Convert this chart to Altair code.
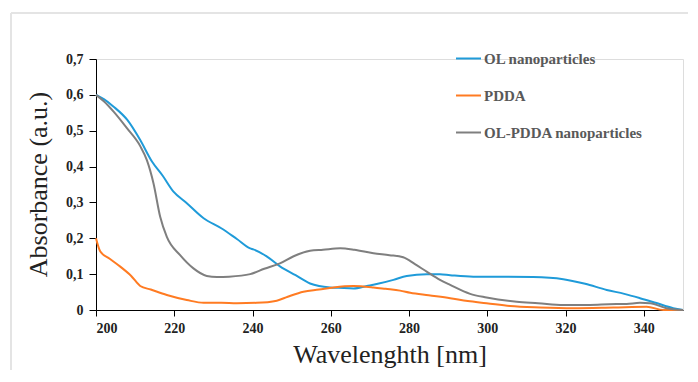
import altair as alt
import pandas as pd

series_names = ["OL nanoparticles", "PDDA", "OL-PDDA nanoparticles"]
series_colors = ["#1f9bd9", "#ff7b22", "#7f7f7f"]

ol_x = [200, 202, 204.5, 208, 211.3, 214.3, 217, 219.8, 223, 227.5, 232, 236, 239.4, 240.2, 243.7, 247.1, 251, 254.7, 257, 259.8, 262, 265.8, 269.2, 272, 276, 279.4, 284.5, 287.9, 290.5, 296.4, 303, 311.7, 319.4, 325, 330.5, 335, 339, 343, 347.5, 350]
ol_y = [0.600, 0.588, 0.567, 0.530, 0.474, 0.414, 0.375, 0.330, 0.300, 0.256, 0.228, 0.198, 0.172, 0.169, 0.149, 0.121, 0.097, 0.074, 0.067, 0.063, 0.062, 0.060, 0.067, 0.073, 0.084, 0.095, 0.100, 0.0995, 0.097, 0.093, 0.093, 0.092, 0.086, 0.073, 0.056, 0.045, 0.033, 0.020, 0.005, 0.000]

pdda_x = [200, 201.1, 203.5, 206.2, 209, 211.3, 214, 218.1, 223.2, 227.5, 232, 236, 241, 246.2, 249, 253, 257, 260.7, 265.8, 270.9, 274, 277.7, 280.3, 285, 290.5, 295, 299.8, 305.8, 313.5, 322, 332.2, 340.7, 345, 350]
pdda_y = [0.200, 0.163, 0.143, 0.121, 0.095, 0.067, 0.057, 0.042, 0.028, 0.020, 0.020, 0.019, 0.020, 0.026, 0.037, 0.051, 0.057, 0.063, 0.067, 0.063, 0.059, 0.054, 0.048, 0.041, 0.033, 0.025, 0.019, 0.011, 0.007, 0.005, 0.007, 0.009, 0.000, 0.000]

olp_x = [200, 202, 204.5, 207.9, 211.3, 213, 214.7, 216.4, 218.1, 221.5, 224.9, 228.3, 230.9, 234, 239.4, 243, 247, 250.5, 254.7, 258, 262.4, 266, 270.9, 275, 278.5, 281.5, 284.5, 287.9, 290.5, 295.6, 299.8, 307.5, 313, 319.4, 326.2, 331, 335.6, 339, 341.6, 345.8, 350]
olp_y = [0.600, 0.582, 0.553, 0.507, 0.457, 0.418, 0.353, 0.260, 0.204, 0.153, 0.116, 0.095, 0.092, 0.093, 0.100, 0.115, 0.130, 0.150, 0.165, 0.168, 0.172, 0.168, 0.158, 0.153, 0.147, 0.128, 0.107, 0.084, 0.070, 0.045, 0.035, 0.023, 0.019, 0.014, 0.014, 0.016, 0.017, 0.020, 0.019, 0.005, 0.000]

rows = []
for name, xs, ys in [(series_names[0], ol_x, ol_y), (series_names[1], pdda_x, pdda_y), (series_names[2], olp_x, olp_y)]:
    for i, (a, b) in enumerate(zip(xs, ys)):
        rows.append({"series": name, "wl": a, "abs": b, "order": i})
df = pd.DataFrame(rows)

FONT = "Liberation Serif"

lines = alt.Chart(df).mark_line(strokeWidth=2, interpolate="monotone").encode(
    x=alt.X("wl:Q", scale=alt.Scale(domain=[200, 350], nice=False),
            axis=alt.Axis(values=[200, 220, 240, 260, 280, 300, 320, 340], title="Wavelenghth [nm]",
                          grid=False, domainColor="black", tickColor="black", tickSize=6,
                          labelFont=FONT, labelFontSize=14, labelFontWeight="bold", labelColor="#222222",
                          labelPadding=5, titleFont=FONT, titleFontSize=26, titleFontWeight="normal",
                          titleColor="#222222", titleY=52, titleBaseline="alphabetic")),
    y=alt.Y("abs:Q", scale=alt.Scale(domain=[0, 0.7], nice=False),
            axis=alt.Axis(values=[0, 0.1, 0.2, 0.3, 0.4, 0.5, 0.6, 0.7], title="Absorbance (a.u.)",
                          labelExpr="datum.value == 0 ? '0' : replace(format(datum.value, '.1f'), '.', ',')",
                          grid=False, domainColor="black", tickColor="black", tickSize=7,
                          labelFont=FONT, labelFontSize=14, labelFontWeight="bold", labelColor="#222222",
                          labelPadding=6, titleFont=FONT, titleFontSize=26, titleFontWeight="normal",
                          titleColor="#222222", titleX=-45, titleY=125, titleAngle=-90,
                          titleAlign="center", titleBaseline="bottom")),
    color=alt.Color("series:N", scale=alt.Scale(domain=series_names, range=series_colors),
                    sort=series_names,
                    legend=alt.Legend(title=None, orient="none", legendX=359, legendY=-14,
                                      symbolType="stroke", symbolSize=625, symbolStrokeWidth=2,
                                      labelFont=FONT, labelFontSize=15, labelFontWeight="bold",
                                      labelColor="#595959", labelOffset=2, rowPadding=15)),
    order="order:Q",
)

border_top = alt.Chart(pd.DataFrame({"k": [0]})).mark_rule(color="#e4e4e4", strokeWidth=2).encode(
    x=alt.value(-85), x2=alt.value(610), y=alt.value(-46))
border_left = alt.Chart(pd.DataFrame({"k": [0]})).mark_rule(color="#e4e4e4", strokeWidth=2).encode(
    x=alt.value(-85), y=alt.value(-46), y2=alt.value(330))

chart = alt.layer(border_top, border_left, lines).properties(
    width=587, height=251,
    autosize=alt.AutoSizeParams(type="none"),
    padding={"left": 88, "top": 51, "right": 5, "bottom": 60},
).configure_view(stroke=None).configure(background="white")

chart.save("out.html", embed_options={"renderer": "svg", "actions": False})
